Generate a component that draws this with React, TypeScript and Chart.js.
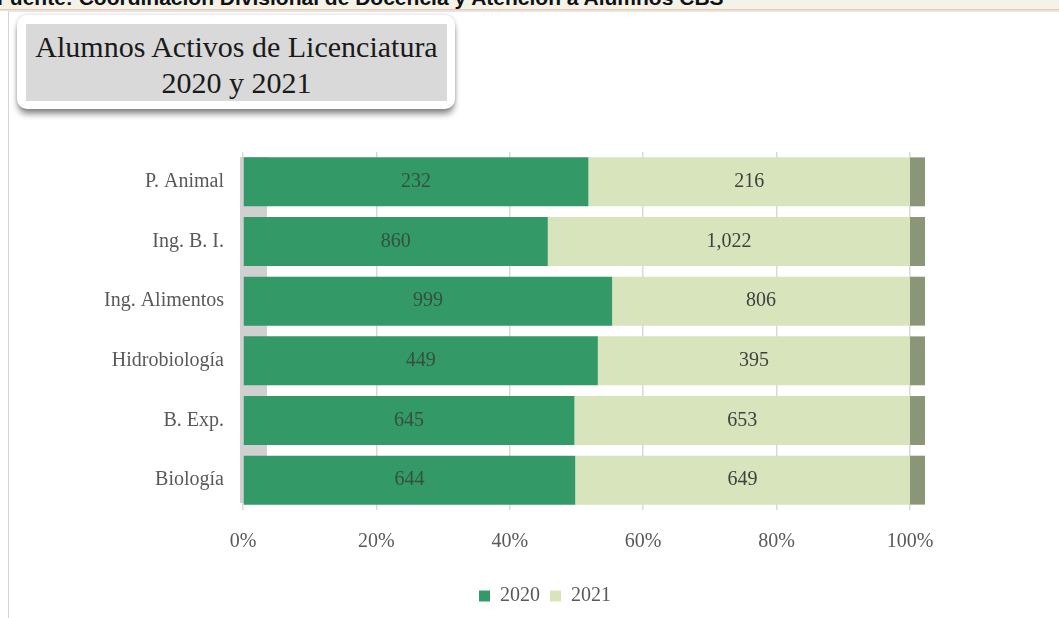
import React, { useEffect, useRef } from "react";
import { Chart, registerables } from "chart.js";

Chart.register(...registerables);

const categories = ["P. Animal", "Ing. B. I.", "Ing. Alimentos", "Hidrobiología", "B. Exp.", "Biología"];
const values2020 = [232, 860, 999, 449, 645, 644];
const values2021 = [216, 1022, 806, 395, 653, 649];
const seriesNames = ["2020", "2021"];
const xTicks = [0, 20, 40, 60, 80, 100];

const DARK = "#339966";
const LIGHT = "#d8e4bc";
const CAP = "#8a9677";
const SERIF = '"Liberation Serif", "DejaVu Serif", serif';

const pct = (a: number[], b: number[], i: number) => a.map((v, k) => (i === 0 ? v : b[k]) / (v + b[k]) * 100);

const decor = {
  id: "decor",
  afterLayout(chart: any) {
    const lg = chart.legend;
    if (lg) {
      lg.left += 90;
      lg.right += 90;
    }
  },
  beforeDatasetsDraw(chart: any) {
    const { ctx, chartArea } = chart;
    ctx.save();
    ctx.fillStyle = "#d0d0d0";
    ctx.fillRect(chartArea.left - 3, chartArea.top + 5, 27, chartArea.height - 12);
    ctx.restore();
  },
  afterDatasetsDraw(chart: any) {
    const { ctx } = chart;
    const raws = [values2020, values2021];
    ctx.save();
    const lastMeta = chart.getDatasetMeta(1);
    lastMeta.data.forEach((el: any) => {
      const p = el.getProps(["x", "y", "height"], true);
      ctx.fillStyle = CAP;
      ctx.fillRect(p.x, p.y - p.height / 2, 15, p.height);
    });
    ctx.font = `20px ${SERIF}`;
    ctx.textAlign = "center";
    ctx.textBaseline = "middle";
    [0, 1].forEach((di) => {
      const meta = chart.getDatasetMeta(di);
      meta.data.forEach((el: any, i: number) => {
        const p = el.getProps(["x", "y", "base"], true);
        ctx.fillStyle = di === 0 ? "#35503f" : "#404040";
        ctx.fillText(raws[di][i].toLocaleString("en-US"), (p.x + p.base) / 2, p.y);
      });
    });
    ctx.restore();
  },
};

function ChartCanvas() {
  const ref = useRef<HTMLCanvasElement>(null);
  useEffect(() => {
    if (!ref.current) return;
    const chart = new Chart(ref.current, {
      type: "bar",
      data: {
        labels: categories,
        datasets: [
          { label: seriesNames[0], data: pct(values2020, values2021, 0), backgroundColor: DARK, barPercentage: 0.82, categoryPercentage: 1 },
          { label: seriesNames[1], data: pct(values2020, values2021, 1), backgroundColor: LIGHT, barPercentage: 0.82, categoryPercentage: 1 },
        ],
      },
      options: {
        indexAxis: "y",
        responsive: false,
        animation: false,
        layout: { padding: { top: 152, right: 149, bottom: 2, left: 0 } },
        plugins: {
          tooltip: { enabled: false },
          legend: {
            position: "bottom",
            labels: {
              boxWidth: 11,
              boxHeight: 11,
              padding: 10,
              color: "#595959",
              font: { family: SERIF, size: 20 },
            },
          },
        },
        scales: {
          x: {
            stacked: true,
            min: 0,
            max: 100,
            afterBuildTicks: (s: any) => { s.ticks = xTicks.map((v) => ({ value: v })); },
            afterFit: (s: any) => { s.height = 66; },
            ticks: {
              callback: (v: any) => v + "%",
              color: "#595959",
              padding: 20,
              font: { family: SERIF, size: 20 },
            },
            grid: { color: "#d9d9d9", lineWidth: 1.5, drawTicks: false },
            border: { display: false },
          },
          y: {
            stacked: true,
            afterFit: (s: any) => { s.width = 243; },
            ticks: { color: "#595959", padding: 19, font: { family: SERIF, size: 20 } },
            grid: { display: false, drawTicks: false },
            border: { display: false },
          },
        },
      },
      plugins: [decor],
    } as any);
    return () => chart.destroy();
  }, []);
  return <canvas ref={ref} width={1059} height={618} style={{ position: "absolute", left: 0, top: 0 }} />;
}

export default function App() {
  return (
    <div style={{ position: "fixed", left: 0, top: 0, width: 1059, height: 618, background: "#fff", overflow: "hidden" }}>
      <div style={{ position: "absolute", left: 0, top: 0, width: 1059, height: 9, background: "#f3f3e9", borderBottom: "1px solid #f6c6a0" }} />
      <div style={{ position: "absolute", left: 0, top: 10, width: 1059, height: 1, background: "#e3e3e3" }} />
      <div
        style={{
          position: "absolute", left: -3, top: -13, whiteSpace: "nowrap", fontFamily: '"Liberation Sans", Arial, sans-serif',
          fontWeight: "bold", fontSize: 21, lineHeight: "21px", color: "#111",
        }}
      >
        Fuente: Coordinación Divisional de Docencia y Atención a Alumnos CBS
      </div>
      <div style={{ position: "absolute", left: 8, top: 11, width: 1059, height: 620, borderLeft: "1px solid #d4d4d4", borderTop: "1px solid #e6e6e6" }} />
      <ChartCanvas />
      <div
        style={{
          position: "absolute", left: 17, top: 15, width: 438, height: 94, borderRadius: 10, background: "#fff",
          boxShadow: "0 6px 6px -1px rgba(0,0,0,0.45), 0 0 4px rgba(0,0,0,0.18)",
        }}
      />
      <div
        style={{
          position: "absolute", left: 26, top: 24, width: 421, height: 77, background: "#d9d9d9", boxSizing: "border-box",
          paddingTop: 5, textAlign: "center", fontFamily: SERIF, fontSize: 30, lineHeight: "36px", color: "#1a1a1a",
        }}
      >
        Alumnos Activos de Licenciatura
        <br />
        2020 y 2021
      </div>
    </div>
  );
}
